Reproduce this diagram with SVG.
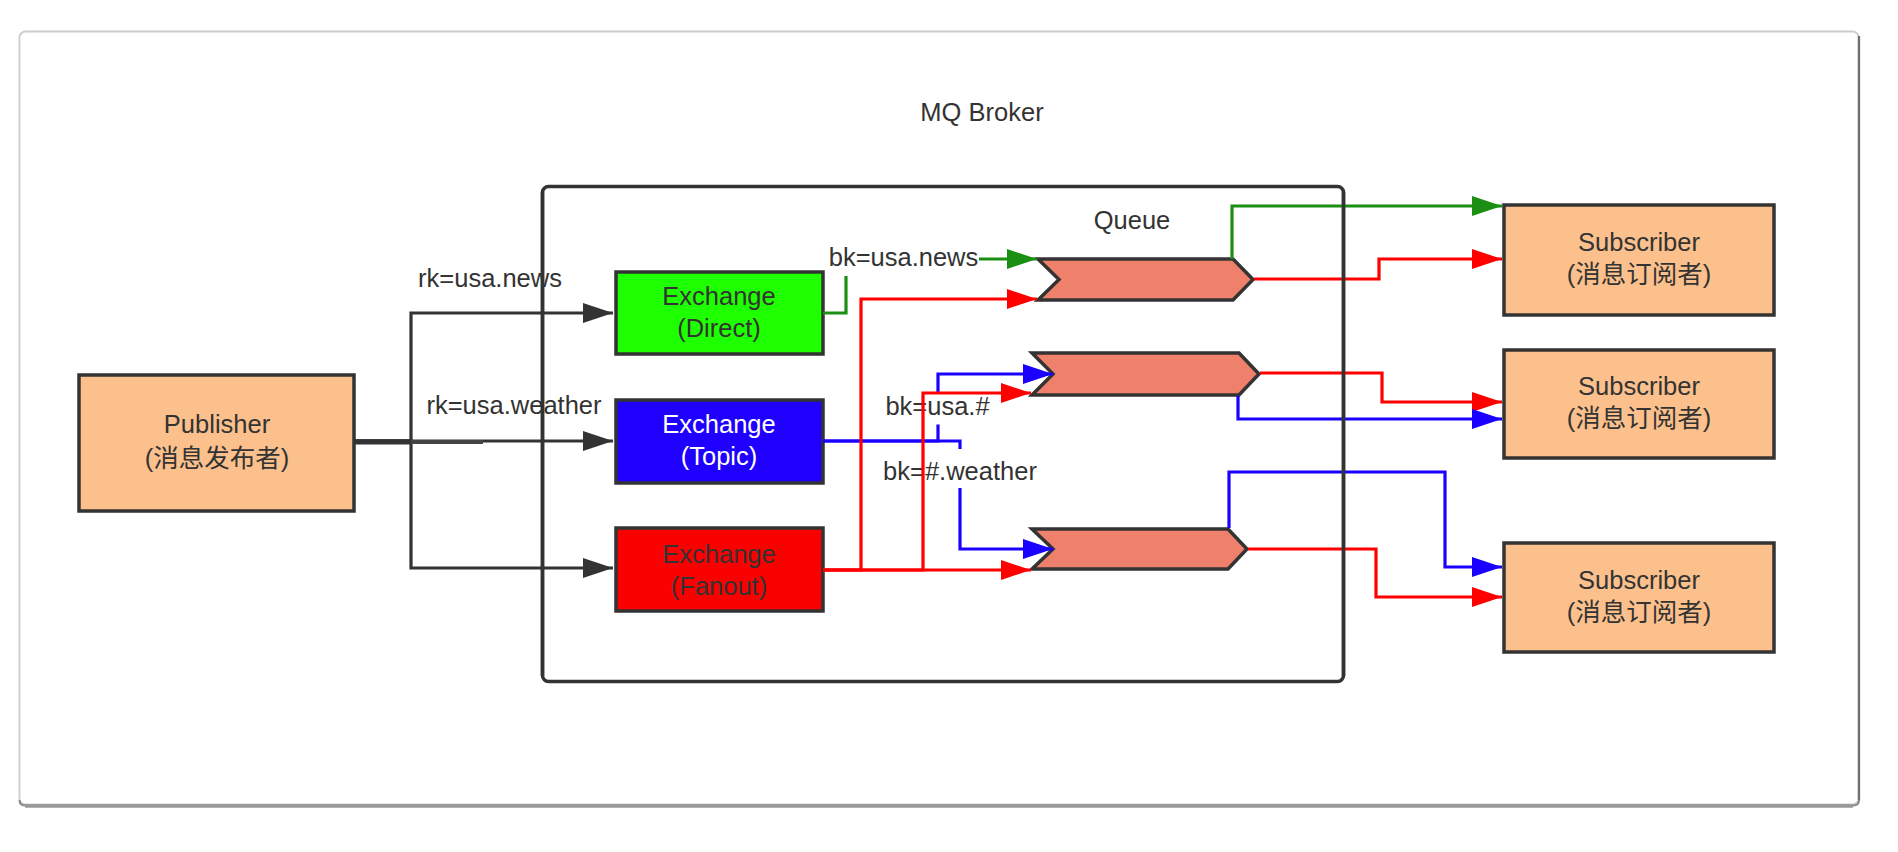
<svg xmlns="http://www.w3.org/2000/svg" width="1898" height="852" viewBox="0 0 1898 852">
<style>
text{font-family:"Liberation Sans","Noto Sans CJK SC",sans-serif;font-size:25.5px;fill:#333;text-anchor:middle}
.box{stroke:#333;stroke-width:3.5}
.orange{fill:#fbc08b}
.queue{fill:#ef806c;stroke:#333;stroke-width:3.5;stroke-linejoin:miter}
.c{fill:none;stroke-width:3.2}
.k{stroke:#333}
.g{stroke:#1b8f14}
.r{stroke:#ff0000}
.b{stroke:#1a00ff}
.lblbg{fill:#fff}
</style>
<defs>
<marker id="ak" markerUnits="userSpaceOnUse" markerWidth="30" markerHeight="22" refX="30" refY="11" orient="auto"><path d="M0,1 L30,11 L0,21 Z" fill="#333"/></marker>
<marker id="ag" markerUnits="userSpaceOnUse" markerWidth="30" markerHeight="22" refX="30" refY="11" orient="auto"><path d="M0,1 L30,11 L0,21 Z" fill="#1b8f14"/></marker>
<marker id="ar" markerUnits="userSpaceOnUse" markerWidth="30" markerHeight="22" refX="30" refY="11" orient="auto"><path d="M0,1 L30,11 L0,21 Z" fill="#ff0000"/></marker>
<marker id="ab" markerUnits="userSpaceOnUse" markerWidth="30" markerHeight="22" refX="30" refY="11" orient="auto"><path d="M0,1 L30,11 L0,21 Z" fill="#1a00ff"/></marker>
</defs>

<g id="frame">
<rect x="19.5" y="31.5" width="1839" height="773" rx="6" fill="#fff" stroke="#cccccc" stroke-width="1.8"/>
<path d="M1859,36 V800 Q1859,805.5 1853,805.5 H25 Q19.5,805.5 19.5,800" fill="none" stroke="#8a8a8a" stroke-width="2"/>
<path d="M25,806 H1853" stroke="#999" stroke-width="3.5"/>
<path d="M1859,36 V800" stroke="#707070" stroke-width="2.3"/>
<text x="982" y="121">MQ Broker</text>
</g>

<g id="connectors">
<g id="publish-edges">
<path class="c k" d="M354,441 H411 V313 H613" marker-end="url(#ak)"/>
<path class="c k" d="M354,441 H613" marker-end="url(#ak)"/>
<path class="c k" d="M354,441 H411 V568 H613" marker-end="url(#ak)"/>
<path d="M354,442 H411" stroke="#333" stroke-width="5" fill="none"/>
<path d="M411,442 H483" stroke="#444" stroke-width="4" fill="none"/>
<text x="490" y="287">rk=usa.news</text>
<text x="514" y="414">rk=usa.weather</text>
</g>
</g>

<g id="broker">
<rect x="542.5" y="186.5" width="801" height="495" rx="6" fill="none" stroke="#333" stroke-width="3.5"/>
<text x="1132" y="229">Queue</text>
</g>

<g id="publisher">
<rect class="box orange" x="79" y="375" width="275" height="136"/>
<text x="217" y="433">Publisher</text>
<text x="217" y="467">(消息发布者)</text>
</g>

<g id="exchange-direct">
<rect class="box" x="616" y="272" width="207" height="82" fill="#1eff00"/>
<text x="719" y="305">Exchange</text>
<text x="719" y="337">(Direct)</text>
</g>
<g id="exchange-topic">
<rect class="box" x="616" y="400" width="207" height="83" fill="#1f00ff"/>
<text x="719" y="433" style="fill:#fff">Exchange</text>
<text x="719" y="465" style="fill:#fff">(Topic)</text>
</g>
<g id="exchange-fanout">
<rect class="box" x="616" y="528" width="207" height="83" fill="#fb0000"/>
<text x="719" y="563">Exchange</text>
<text x="719" y="595">(Fanout)</text>
</g>

<g id="queue-1"><polygon class="queue" points="1038,259 1233,259 1253,279.5 1233,300 1038,300 1059,279.5"/></g>
<g id="queue-2"><polygon class="queue" points="1032,353 1239,353 1259,374 1239,395 1032,395 1053,374"/></g>
<g id="queue-3"><polygon class="queue" points="1032,529 1228,529 1247,549 1228,569 1032,569 1053,549"/></g>

<g id="subscriber-1">
<rect class="box orange" x="1504" y="205" width="270" height="110"/>
<text x="1639" y="251">Subscriber</text>
<text x="1639" y="283">(消息订阅者)</text>
</g>
<g id="subscriber-2">
<rect class="box orange" x="1504" y="350" width="270" height="108"/>
<text x="1639" y="395">Subscriber</text>
<text x="1639" y="427">(消息订阅者)</text>
</g>
<g id="subscriber-3">
<rect class="box orange" x="1504" y="543" width="270" height="109"/>
<text x="1639" y="589">Subscriber</text>
<text x="1639" y="621">(消息订阅者)</text>
</g>

<g id="binding-edges">
<path class="c g" d="M823,313 H846 V259 H1037" marker-end="url(#ag)"/>
<rect class="lblbg" x="827" y="242" width="152" height="34"/>
<text x="903.5" y="266">bk=usa.news</text>

<path class="c b" d="M823,441 H938 V374 H1053" marker-end="url(#ab)"/>
<path class="c b" d="M823,441 H960 V549 H1053" marker-end="url(#ab)"/>
<rect class="lblbg" x="884" y="393.5" width="107" height="31"/>
<text x="937.5" y="415">bk=usa.#</text>
<rect class="lblbg" x="880" y="449" width="160" height="39"/>
<text x="960" y="480">bk=#.weather</text>

<path class="c r" d="M823,570 H861 V299 H1037" marker-end="url(#ar)"/>
<path class="c r" d="M823,570 H923 V393 H1031" marker-end="url(#ar)"/>
<path class="c r" d="M823,570 H1031" marker-end="url(#ar)"/>
</g>

<g id="delivery-edges">
<path class="c g" d="M1232,259 V206 H1502" marker-end="url(#ag)"/>
<path class="c r" d="M1254,279 H1379 V259 H1502" marker-end="url(#ar)"/>
<path class="c r" d="M1260,373 H1382 V402 H1502" marker-end="url(#ar)"/>
<path class="c b" d="M1238,396 V419 H1502" marker-end="url(#ab)"/>
<path class="c b" d="M1229,528 V472 H1445 V567 H1502" marker-end="url(#ab)"/>
<path class="c r" d="M1248,549 H1376 V597 H1502" marker-end="url(#ar)"/>
</g>

<g id="broker-border-overlay">
<path d="M1343.5,192 V676" stroke="#333" stroke-width="3.5" fill="none"/>
<path d="M542.5,192 V676" stroke="#333" stroke-width="3.5" fill="none"/>
</g>
</svg>
